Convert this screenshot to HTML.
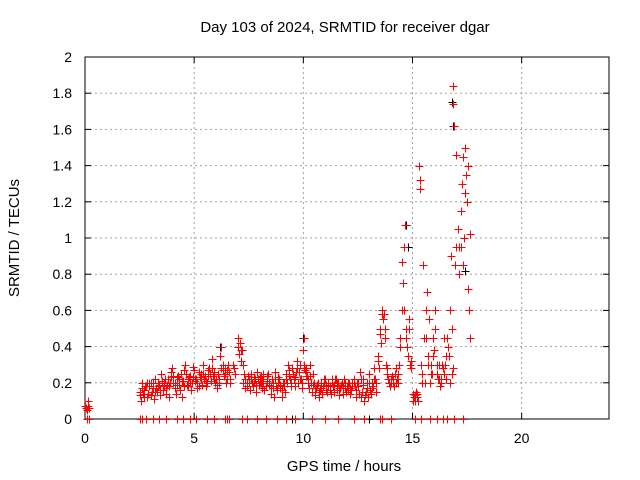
<!DOCTYPE html>
<html><head><meta charset="utf-8"><style>
body{margin:0;background:#fff;}
svg{display:block;font-family:"Liberation Sans",sans-serif;}
</style></head><body>
<svg id="chart" width="640" height="480" viewBox="0 0 640 480">
<rect width="640" height="480" fill="#fff"/>
<g id="grid"></g>
<g id="axes"></g>
<g id="marks"></g>
<text x="345" y="32" font-size="15" text-anchor="middle">Day 103 of 2024, SRMTID for receiver dgar</text>
<text x="344" y="471" font-size="15" text-anchor="middle">GPS time / hours</text>
<text x="19" y="238" font-size="15" text-anchor="middle" transform="rotate(-90 19 238)">SRMTID / TECUs</text>
</svg>
<script>
const xTicks=[0,5,10,15,20];
const yTicks=[0,0.2,0.4,0.6,0.8,1,1.2,1.4,1.6,1.8,2];
const yTickLabels=["0","0.2","0.4","0.6","0.8","1","1.2","1.4","1.6","1.8","2"];
const hours=[2.5,2.6,2.7,2.8,2.9,3.0,3.1,3.2,3.3,3.4,3.5,3.6,3.7,3.8,3.9,4.0,4.1,4.2,4.3,4.4,4.5,4.6,4.7,4.8,4.9,5.0,5.1,5.2,5.3,5.4,5.5,5.6,5.7,5.8,5.9,6.0,
6.1,6.2,6.3,6.4,6.5,6.6,6.8,7.0,7.1,7.2,7.3,7.4,7.5,7.6,7.7,7.8,7.9,8.0,8.05,8.1,
8.15,8.3,8.4,8.5,8.6,8.7,8.8,8.9,9.0,9.1,9.2,9.3,9.4,9.5,9.6,9.7,9.8,9.9,10.0,10.05,
10.1,10.2,10.3,10.4,10.5,10.6,10.7,10.8,10.9,11.0,11.1,11.2,11.3,11.4,11.5,11.6,11.7,11.8,11.9,12.0,
12.1,12.2,12.3,12.4,12.5,12.6,12.7,12.8,12.9,13.0,13.1,13.2,13.3,
13.4,13.5,13.6,13.7,13.8,13.9,14.0,
14.1,14.2,14.3,14.4,14.5,14.6,14.7,14.8,14.9,
15.0,15.1,15.2,15.3,15.4,
15.5,15.6,15.7,15.8,15.9,16.0,16.1,16.2,16.3,16.4,
16.5,16.6,16.7,16.8,16.85,16.95,
17.1,17.2,17.3,17.4,17.5,17.6];
const valsA=[.15,.2,.12,.18,.14,.2,.17,.22,.15,.19,.25,.18,.14,.22,.2,.28,.17,.23,.19,.25,.21,.3,.18,.24,.2,.27,.22,.18,.25,.3,.24,.2,.28,.33,.26,.22,
.25,.35,.3,.28,.22,.26,.3,.45,.42,.38,.25,.2,.22,.25,.18,.22,.26,.2,.24,.21,
.22,.18,.25,.14,.2,.26,.16,.22,.12,.2,.25,.3,.22,.28,.18,.32,.26,.22,.38,.3,
.28,.22,.3,.15,.2,.17,.12,.2,.18,.22,.15,.18,.2,.15,.22,.2,.17,.14,.2,.18,
.2,.16,.22,.12,.18,.26,.15,.1,.2,.25,.14,.18,.22,
.35,.5,.6,.58,.3,.22,.2,
.2,.25,.22,.3,.87,.6,.5,.35,.3,
.14,.1,.12,1.4,.3,
.85,.45,.3,.2,.25,.38,.3,.22,.2,.28,
.3,.45,.2,.25,1.84,.85,
1.05,.95,1.45,1.5,1.2,.6];
const valsB=[.1,.14,.18,.12,.2,.15,.11,.17,.2,.13,.16,.22,.19,.12,.26,.2,.14,.24,.16,.12,.27,.19,.23,.16,.29,.21,.17,.23,.19,.22,.18,.27,.21,.24,.2,.17,
.2,.28,.24,.2,.3,.22,.25,.36,.32,.2,.17,.24,.16,.2,.23,.15,.19,.24,.17,.25,
.16,.24,.2,.22,.12,.18,.23,.17,.2,.15,.2,.24,.18,.22,.26,.2,.3,.17,.28,.24,
.24,.17,.2,.25,.13,.2,.16,.14,.22,.16,.2,.14,.18,.22,.16,.13,.2,.22,.15,.2,
.14,.2,.18,.2,.14,.12,.22,.15,.12,.16,.2,.28,.15,
.28,.42,.55,.45,.25,.18,.24,
.18,.28,.2,.45,.75,1.07,.4,.55,.28,
.12,.15,.1,1.27,.2,
.2,.7,.55,.25,.35,.6,.22,.18,.3,.25,
.22,.35,.9,.28,1.62,1.46,
.8,1.3,1.0,1.35,.72,.45];
const valsC=[.13,.17,.16,.2,.18,.13,.2,.15,.18,.16,.21,.2,.17,.18,.23,.24,.2,.19,.22,.21,.18,.25,.22,.2,.23,.22,.2,.26,.22,.25,.21,.24,.25,.28,.22,.19,
.22,.4,.27,.25,.27,.2,.28,.4,.38,.3,.22,.18,.2,.22,.21,.19,.22,.23,.2,.18,
.2,.21,.19,.18,.17,.22,.2,.19,.16,.18,.22,.27,.2,.25,.23,.28,.22,.2,.45,.27,
.26,.2,.24,.19,.17,.19,.15,.17,.2,.19,.18,.16,.22,.19,.2,.17,.19,.18,.17,.16,
.17,.18,.2,.16,.2,.22,.19,.13,.17,.2,.17,.22,.2,
.32,.47,.58,.5,.28,.2,.22,
.22,.2,.25,.4,.6,.95,.45,.5,.32,
.1,.13,.14,1.32,.25,
.45,.6,.35,.3,.45,.5,.25,.3,.22,.45,
.35,.4,.6,.5,1.74,.95,
.95,1.15,.85,1.25,1.4,1.02];
const earlyHours=[0.0,0.05,0.1,0.15,0.2,0.12];
const earlyVals=[.07,.06,.05,.1,.06,.07];
const zeroHours=[0.1,0.2,2.5,2.6,2.8,3.1,3.4,3.7,4.2,4.5,4.8,5.1,5.6,5.9,6.4,6.5,6.6,7.2,7.4,7.9,8.3,8.8,9.2,9.6,10.4,11,11.6,12.3,12.8,13.5,13.6,14.0,15.1,15.4,15.8,16.1,16.4,16.6,16.9,17.3];
const blackHours=[6.2,7.0,10.0,14.7,14.8,16.8,16.85,17.4,9.5,13.0];
const blackVals=[.4,.45,.45,1.07,.95,1.75,1.62,.82,0,0];

const L=85,R=609,T=57,B=419;
const xs=h=>L+h/24*(R-L);
const ys=v=>B-v/2*(B-T);
const NS="http://www.w3.org/2000/svg";
function mk(tag,attrs,parent){const e=document.createElementNS(NS,tag);for(const k in attrs)e.setAttribute(k,attrs[k]);parent.appendChild(e);return e;}
const grid=document.getElementById('grid'),axes=document.getElementById('axes'),marks=document.getElementById('marks');
yTicks.forEach((v,i)=>{
  if(v>0&&v<2){const g=mk('line',{x1:L,x2:R,y1:ys(v),y2:ys(v),stroke:'#a0a0a0','stroke-dasharray':'2,3'},grid);
  
  }
  mk('line',{x1:L,x2:L+6,y1:ys(v),y2:ys(v),stroke:'#000'},axes);
  mk('line',{x1:R,x2:R-6,y1:ys(v),y2:ys(v),stroke:'#000'},axes);
  const t=mk('text',{x:72,y:ys(v)+5,'font-size':14,'text-anchor':'end'},axes);
  t.textContent=yTickLabels[i];
  
  
});
xTicks.forEach(h=>{
  if(h>0){const g=mk('line',{x1:xs(h),x2:xs(h),y1:T,y2:B,stroke:'#a0a0a0','stroke-dasharray':'2,3'},grid);
  
  }
  mk('line',{x1:xs(h),x2:xs(h),y1:B,y2:B-6,stroke:'#000'},axes);
  mk('line',{x1:xs(h),x2:xs(h),y1:T,y2:T+6,stroke:'#000'},axes);
  const t=mk('text',{x:xs(h),y:443,'font-size':14,'text-anchor':'middle'},axes);
  t.textContent=String(h);
  
  
});
const frame=mk('rect',{x:L,y:T,width:R-L,height:B-T,fill:'none',stroke:'#000'},axes);


function plus(h,v,color){
  const x=Math.round(xs(h))+0.5,y=Math.round(ys(v))+0.5;
  const p=mk('path',{d:`M${x-4} ${y}H${x+4}M${x} ${y-4}V${y+4}`,stroke:color,'stroke-width':1,fill:'none'},marks);
  
  
}
blackHours.forEach((h,i)=>plus(h,blackVals[i],'#000'));
earlyHours.forEach((h,i)=>plus(h,earlyVals[i],'#f00'));
zeroHours.forEach(h=>plus(h,0,'#f00'));
hours.forEach((h,i)=>{plus(h,valsA[i],'#f00');plus(h+0.05,valsB[i],'#f00');plus(h+0.025,valsC[i],'#f00');});
</script>
</body></html>
